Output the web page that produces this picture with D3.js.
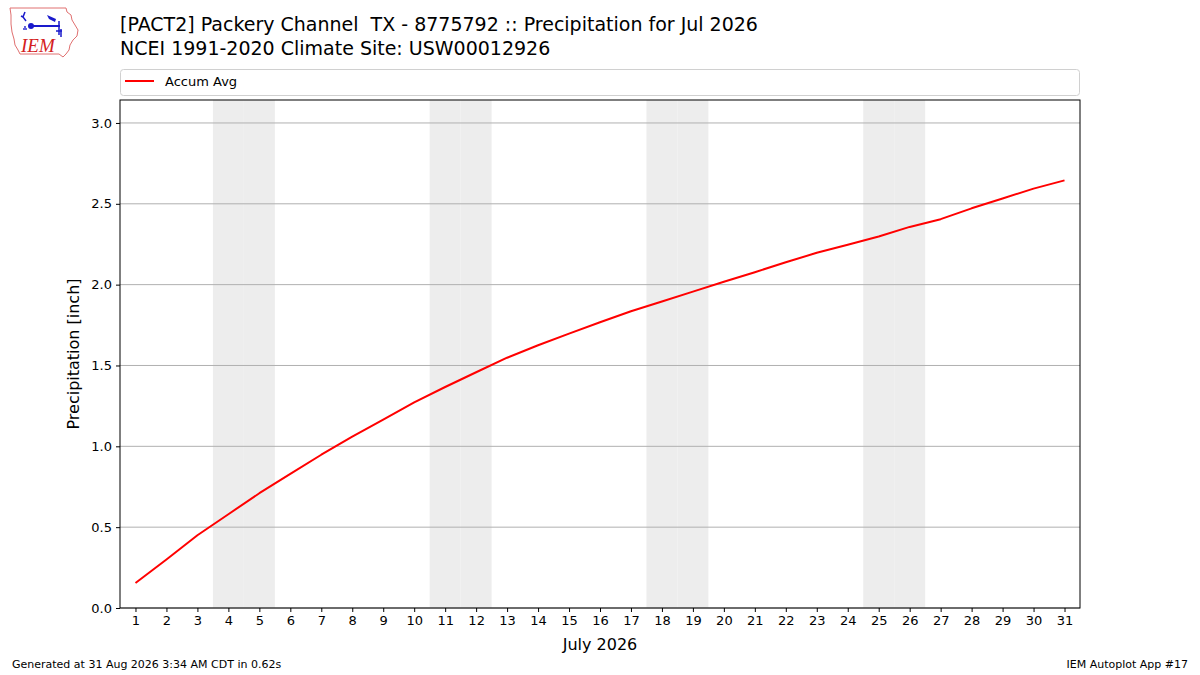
<!DOCTYPE html>
<html>
<head>
<meta charset="utf-8">
<script src="https://cdn.jsdelivr.net/npm/d3@7"></script>
<style>
  html, body { margin: 0; padding: 0; background: #fff; }
  svg { display: block; font-family: "DejaVu Sans", sans-serif; }
  text { white-space: pre; }
</style>
</head>
<body>
<svg id="chart" width="1200" height="675"></svg>
<script>
// ---- data ----
const days = [1,2,3,4,5,6,7,8,9,10,11,12,13,14,15,16,17,18,19,20,21,22,23,24,25,26,27,28,29,30,31];
const accumAvg = [0.155,0.300,0.450,0.580,0.710,0.830,0.948,1.060,1.165,1.272,1.367,1.458,1.548,1.625,1.697,1.767,1.835,1.896,1.957,2.018,2.077,2.138,2.197,2.247,2.298,2.357,2.405,2.472,2.533,2.594,2.645];
const weekendDays = [4,5,11,12,18,19,25,26];
const yTicks = [0.0,0.5,1.0,1.5,2.0,2.5,3.0];
const titleLines = ["[PACT2] Packery Channel  TX - 8775792 :: Precipitation for Jul 2026",
                    "NCEI 1991-2020 Climate Site: USW00012926"];
const seriesName = "Accum Avg";
const xLabel = "July 2026";
const yLabel = "Precipitation [inch]";
const footLeft = "Generated at 31 Aug 2026 3:34 AM CDT in 0.62s";
const footRight = "IEM Autoplot App #17";

// ---- layout ----
const svg = d3.select("#chart");
const L = 120, R = 1080, T = 100, B = 608;
const x = d3.scaleLinear().domain([0.5, 31.5]).range([L, R]);
const y = d3.scaleLinear().domain([0, 3.142]).range([B, T]);

// weekend shading
const g = svg.append("g");
g.selectAll("rect.wk").data(weekendDays).enter().append("rect")
  .attr("class","wk")
  .attr("x", d => x(d - 0.5)).attr("width", d => x(d + 0.5) - x(d - 0.5))
  .attr("y", T).attr("height", B - T)
  .attr("fill", "#ededed");

// horizontal grid
g.selectAll("line.grid").data(yTicks).enter().append("line")
  .attr("x1", L).attr("x2", R)
  .attr("y1", d => y(d)).attr("y2", d => y(d))
  .attr("stroke", "#b0b0b0").attr("stroke-width", 1);

// line
const line = d3.line().x((d,i) => x(days[i])).y(d => y(d));
g.append("path").datum(accumAvg)
  .attr("d", line).attr("fill","none")
  .attr("stroke","#ff0000").attr("stroke-width",2)
  .attr("stroke-linejoin","round");

// frame
g.append("rect").attr("x", L).attr("y", T).attr("width", R-L).attr("height", B-T)
  .attr("fill","none").attr("stroke","#000").attr("stroke-width",1);

// axes
const xAxis = d3.axisBottom(x).tickValues(days).tickSize(4).tickPadding(4).tickFormat(d3.format("d"));
const xg = svg.append("g").attr("transform", `translate(0,${B})`).call(xAxis);
xg.select(".domain").remove();
xg.selectAll("text").attr("font-size", 13).attr("font-family","DejaVu Sans").attr("fill","#000");
xg.selectAll("line").attr("stroke","#000");

const yAxis = d3.axisLeft(y).tickValues(yTicks).tickSize(4).tickPadding(4).tickFormat(d3.format(".1f"));
const yg = svg.append("g").attr("transform", `translate(${L},0)`).call(yAxis);
yg.select(".domain").remove();
yg.selectAll("text").attr("font-size", 13).attr("font-family","DejaVu Sans").attr("fill","#000");
yg.selectAll("line").attr("stroke","#000");

// axis labels
svg.append("text").attr("x", (L+R)/2).attr("y", 650).attr("text-anchor","middle")
  .attr("font-size", 16).text(xLabel);
svg.append("text").attr("transform", `translate(79,${(T+B)/2}) rotate(-90)`)
  .attr("text-anchor","middle").attr("font-size", 16).text(yLabel);

// title
svg.selectAll("text.title").data(titleLines).enter().append("text")
  .attr("class","title").attr("x", 120).attr("y", (d,i) => 31 + i*24)
  .attr("font-size", 19).attr("xml:space","preserve").text(d => d);

// legend
svg.append("rect").attr("x", 120.5).attr("y", 69.5).attr("width", 959).attr("height", 26)
  .attr("rx", 3).attr("fill","#fff").attr("stroke","#d0d0d0");
svg.append("line").attr("x1", 125).attr("x2", 154).attr("y1", 81).attr("y2", 81)
  .attr("stroke","#ff0000").attr("stroke-width",2);
svg.append("text").attr("x", 165).attr("y", 86).attr("font-size", 13).text(seriesName);

// footer
svg.append("text").attr("x", 12).attr("y", 668).attr("font-size", 11).text(footLeft);
svg.append("text").attr("x", 1188).attr("y", 668).attr("font-size", 11).attr("text-anchor","end").text(footRight);

// logo (approximation of IEM logo)
const logo = svg.append("g");
logo.append("path")
  .attr("d","M10,8 L66,8 L67,12 L71,15 L72,20 L75,25 L78,30 L77,36 L73,40 L70,45 L69,50 L66,54 L63,57 L59,54 L20,54 L18,50 L15,45 L14,39 L12,32 L11,24 L11,15 Z")
  .attr("fill","#fff").attr("stroke","#e07070").attr("stroke-width",1);
const blue = "#1a1acc";
logo.append("line").attr("x1",31).attr("y1",26).attr("x2",60).attr("y2",26).attr("stroke",blue).attr("stroke-width",2);
logo.append("circle").attr("cx",31).attr("cy",26).attr("r",3).attr("fill",blue);
logo.append("path").attr("d","M47,15 L56,19 L55,22 L49,19 Z").attr("fill",blue);
logo.append("path").attr("d","M25,12 L23,17 L26,21 M23,17 L21,16").attr("fill","none").attr("stroke",blue).attr("stroke-width",1.5);
logo.append("path").attr("d","M59,21 L59,35 M56,31 L62,31 M61,29 L61,37").attr("fill","none").attr("stroke",blue).attr("stroke-width",1.5);
logo.append("circle").attr("cx",24).attr("cy",29).attr("r",0.9).attr("fill",blue);
logo.append("circle").attr("cx",26).attr("cy",29).attr("r",0.9).attr("fill",blue);
logo.append("circle").attr("cx",25).attr("cy",27).attr("r",0.9).attr("fill",blue);
logo.append("text").attr("x",21).attr("y",52).attr("font-size",19)
  .attr("font-family","Liberation Serif, DejaVu Serif, serif").attr("font-style","italic")
  .attr("fill","#d42020").text("IEM");
</script>
</body>
</html>
